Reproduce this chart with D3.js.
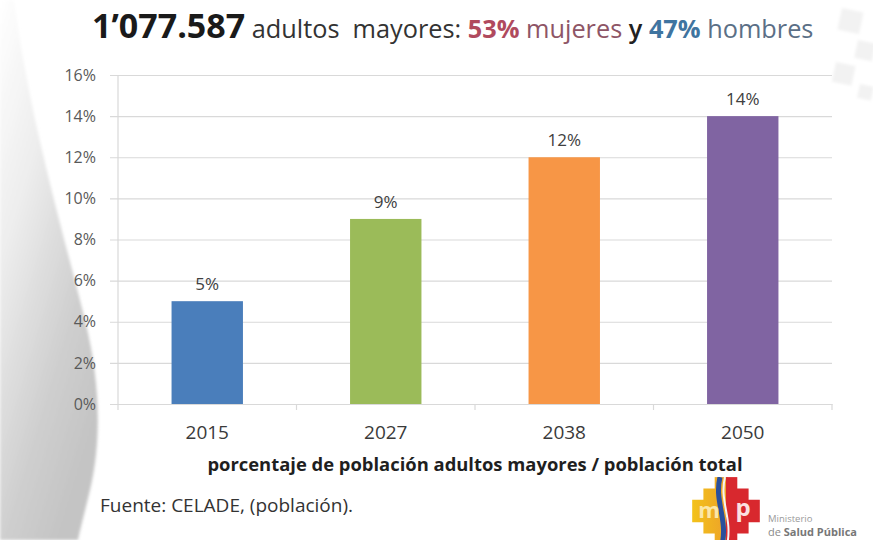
<!DOCTYPE html>
<html>
<head>
<meta charset="utf-8">
<script src="https://cdn.jsdelivr.net/npm/d3@7/dist/d3.min.js"></script>
<style>
  html, body { margin: 0; padding: 0; background: #ffffff; }
  svg { display: block; }
  text { font-family: "Open Sans", "Noto Sans", sans-serif; }
</style>
</head>
<body>
<svg id="chart" width="873" height="540"></svg>
<script>
// Share of older adults in the total population, by projection year
const years = ["2015", "2027", "2038", "2050"];
const shares = [5, 9, 12, 14];
const barColors = ["#4a7ebb", "#9bbb59", "#f79646", "#8064a2"];
const yTicks = [0, 2, 4, 6, 8, 10, 12, 14, 16];

const titleParts = [
  { text: "1\u2019077.587", size: 34, weight: 700, fill: "#1a1a1a" },
  { text: " adultos  mayores: ", size: 25.3, weight: 400, fill: "#333333" },
  { text: "53%", size: 25.3, weight: 700, fill: "#b04a5e" },
  { text: " mujeres ", size: 25.3, weight: 400, fill: "#8e5566" },
  { text: "y ", size: 25.3, weight: 600, fill: "#222222" },
  { text: "47%", size: 25.3, weight: 700, fill: "#3f74a0" },
  { text: " hombres", size: 25.3, weight: 400, fill: "#5b6f86" }
];
const axisTitle = "porcentaje de población adultos mayores / población total";
const sourceNote = "Fuente: CELADE, (población).";

const svg = d3.select("#chart");
const W = 873, H = 540;
const plot = { left: 118, right: 832, top: 75, bottom: 404 };

// ---- background decoration ----
const defs = svg.append("defs");
const sw = defs.append("linearGradient").attr("id", "swoosh")
  .attr("x1", "0").attr("y1", "0").attr("x2", "0.6").attr("y2", "1");
sw.append("stop").attr("offset", "0").attr("stop-color", "#ffffff");
sw.append("stop").attr("offset", "0.35").attr("stop-color", "#eeeeee");
sw.append("stop").attr("offset", "0.75").attr("stop-color", "#cfcfcf");
sw.append("stop").attr("offset", "1").attr("stop-color", "#c4c4c4");
defs.append("filter").attr("id", "soft")
  .append("feGaussianBlur").attr("stdDeviation", 1.5);

svg.append("rect").attr("width", W).attr("height", H).attr("fill", "#ffffff");
svg.append("path")
  .attr("d", "M0,0 L14,0 C30,120 60,220 85,320 C100,380 102,440 90,490 C84,515 80,530 78,540 L0,540 Z")
  .attr("fill", "url(#swoosh)")
  .attr("filter", "url(#soft)");

// faint tiles in the top-right corner
const tiles = [[842, 8, 22], [858, 40, 18], [836, 62, 20], [860, 84, 14]];
svg.append("g").selectAll("rect").data(tiles).join("rect")
  .attr("x", d => d[0]).attr("y", d => d[1])
  .attr("width", d => d[2]).attr("height", d => d[2])
  .attr("transform", d => `rotate(12,${d[0]},${d[1]})`)
  .attr("fill", "#f2f2f2").attr("filter", "url(#soft)");

// ---- title ----
const title = svg.append("text")
  .attr("x", 92).attr("y", 38)
  .style("white-space", "pre");
title.selectAll("tspan").data(titleParts).join("tspan")
  .text(d => d.text)
  .attr("font-size", d => d.size)
  .attr("font-weight", d => d.weight)
  .attr("fill", d => d.fill);

// ---- scales ----
const x = d3.scaleBand().domain(years)
  .range([plot.left, plot.right])
  .paddingInner(0.6).paddingOuter(0.3);
const y = d3.scaleLinear().domain([0, 16]).range([plot.bottom, plot.top]);

// ---- y axis with gridlines ----
const yAxis = svg.append("g")
  .attr("transform", `translate(${plot.left},0)`)
  .call(d3.axisLeft(y).tickValues(yTicks)
    .tickSize(-(plot.right - plot.left))
    .tickPadding(22)
    .tickFormat(d => d + "%"));
yAxis.select(".domain").remove();
yAxis.selectAll(".tick line")
  .attr("x1", -8)
  .attr("stroke", "#d9d9d9").attr("stroke-width", 1.2);
yAxis.selectAll(".tick text")
  .attr("font-size", 16).attr("fill", "#595959")
  .attr("font-family", "'Open Sans', sans-serif");
svg.append("line")
  .attr("x1", plot.left).attr("x2", plot.left)
  .attr("y1", plot.top).attr("y2", plot.bottom + 6)
  .attr("stroke", "#d9d9d9").attr("stroke-width", 1.2);

// ---- x axis ----
const xAxis = svg.append("g")
  .attr("transform", `translate(0,${plot.bottom})`)
  .call(d3.axisBottom(x).tickSize(0).tickPadding(22));
xAxis.select(".domain").attr("stroke", "#d9d9d9").attr("stroke-width", 1.2);
xAxis.selectAll(".tick text")
  .attr("font-size", 19).attr("fill", "#3a3a3a")
  .attr("font-family", "'Open Sans', sans-serif");
// category separators below the baseline
const seps = years.map((d, i) => x(d) - x.step() * x.paddingInner() / 2).slice(1)
  .concat([plot.right]);
svg.append("g").selectAll("line").data(seps).join("line")
  .attr("x1", d => d).attr("x2", d => d)
  .attr("y1", plot.bottom).attr("y2", plot.bottom + 6)
  .attr("stroke", "#d9d9d9").attr("stroke-width", 1.2);

// ---- bars ----
const rows = years.map((yr, i) => ({ yr, v: shares[i], c: barColors[i] }));
svg.append("g").selectAll("rect").data(rows).join("rect")
  .attr("x", d => x(d.yr))
  .attr("width", x.bandwidth())
  .attr("y", d => y(d.v))
  .attr("height", d => y(0) - y(d.v))
  .attr("fill", d => d.c);

svg.append("g").selectAll("text").data(rows).join("text")
  .attr("x", d => x(d.yr) + x.bandwidth() / 2)
  .attr("y", d => y(d.v) - 11)
  .attr("text-anchor", "middle")
  .attr("font-size", 17).attr("fill", "#404040")
  .text(d => d.v + "%");

// ---- axis title and source ----
svg.append("text")
  .attr("x", (plot.left + plot.right) / 2).attr("y", 471)
  .attr("text-anchor", "middle")
  .attr("font-size", 18.4).attr("font-weight", 700).attr("fill", "#1f1f1f")
  .text(axisTitle);
svg.append("text")
  .attr("x", 100).attr("y", 512)
  .attr("font-size", 19).attr("fill", "#333333")
  .text(sourceNote);

// ---- ministry emblem ----
const cx = 726, cy = 511, u = 11.3;
const cross = [[-1,-3],[1,-3],[1,-2],[2,-2],[2,-1],[3,-1],[3,1],[2,1],[2,2],[1,2],[1,3],
  [-1,3],[-1,2],[-2,2],[-2,1],[-3,1],[-3,-1],[-2,-1],[-2,-2],[-1,-2]];
defs.append("clipPath").attr("id", "chakana")
  .append("polygon")
  .attr("points", cross.map(p => [cx + p[0] * u, cy + p[1] * u].join(",")).join(" "));
const yel = defs.append("linearGradient").attr("id", "yel")
  .attr("x1", "0").attr("y1", "0").attr("x2", "1").attr("y2", "0");
yel.append("stop").attr("offset", "0").attr("stop-color", "#f3c21a");
yel.append("stop").attr("offset", "1").attr("stop-color", "#eda12a");
const logo = svg.append("g").attr("clip-path", "url(#chakana)");
logo.append("rect").attr("x", cx - 3 * u).attr("y", cy - 3 * u)
  .attr("width", 3 * u + 2).attr("height", 6 * u).attr("fill", "url(#yel)");
logo.append("rect").attr("x", cx).attr("y", cy - 3 * u)
  .attr("width", 3 * u).attr("height", 6 * u).attr("fill", "#d8282e");
logo.append("path")
  .attr("d", `M${cx - 6},${cy - 3 * u} C${cx - 12},${cy - 10} ${cx + 2},${cy + 8} ${cx - 4},${cy + 3 * u}`)
  .attr("stroke", "#2a4f9c").attr("stroke-width", 5).attr("fill", "none");
logo.append("path")
  .attr("d", `M${cx - 1},${cy - 3 * u} C${cx - 7},${cy - 10} ${cx + 7},${cy + 8} ${cx + 1},${cy + 3 * u}`)
  .attr("stroke", "#f4f4f4").attr("stroke-width", 2).attr("fill", "none");
svg.append("text").attr("x", cx - 17).attr("y", cy + 7)
  .attr("text-anchor", "middle").attr("font-size", 22).attr("font-weight", 700)
  .attr("fill", "#fbe7a8").text("m");
svg.append("text").attr("x", cx + 17).attr("y", cy + 5)
  .attr("text-anchor", "middle").attr("font-size", 24).attr("font-weight", 700)
  .attr("fill", "#fbe1e1").text("p");
svg.append("text").attr("x", 768).attr("y", 522)
  .attr("font-size", 9.5).attr("fill", "#9a9a9a").attr("font-family", "'Liberation Sans Narrow', 'Liberation Sans', sans-serif")
  .text("Ministerio");
const msp = svg.append("text").attr("x", 768).attr("y", 536)
  .attr("font-size", 11).attr("fill", "#8a8a8a").attr("font-family", "'Liberation Sans Narrow', 'Liberation Sans', sans-serif");
msp.append("tspan").text("de ");
msp.append("tspan").attr("font-weight", 700).attr("fill", "#777777").text("Salud Pública");
</script>
</body>
</html>
